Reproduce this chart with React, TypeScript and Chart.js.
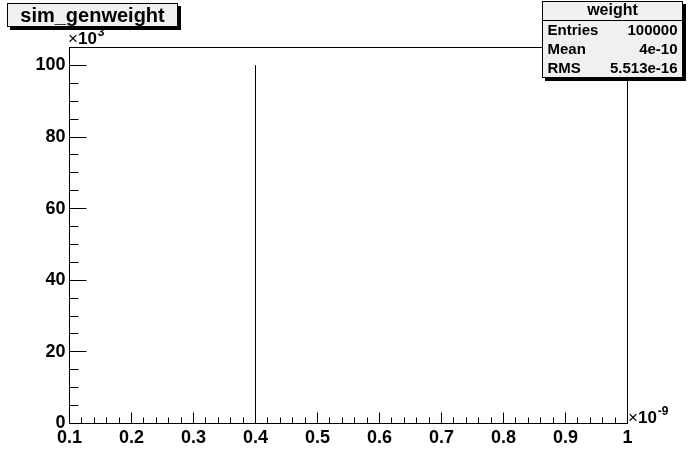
import React, { useEffect, useRef } from 'react';
import { Chart, registerables } from 'chart.js';

Chart.register(...registerables);

// ---- data ----
const histTitle = 'sim_genweight';
const statsTitle = 'weight';
const entryValues = [0.4]; // in units of 1e-9
const entryCounts = [100000];
const xRange = [0.1, 1.0];
const yRange = [0, 105000];
const xTickValues = [0.1, 0.2, 0.3, 0.4, 0.5, 0.6, 0.7, 0.8, 0.9, 1.0];
const xTickLabels = ['0.1', '0.2', '0.3', '0.4', '0.5', '0.6', '0.7', '0.8', '0.9', '1'];
const yTickValues = [0, 20000, 40000, 60000, 80000, 100000];
const yTickLabels = ['0', '20', '40', '60', '80', '100'];
const statsLabels = ['Entries', 'Mean', 'RMS'];
const statsValues = ['100000', '4e-10', '5.513e-16'];
const xExponent = '-9';
const yExponent = '3';

const FONT = '"Liberation Sans", Arial, Helvetica, sans-serif';

function buildStepPoints() {
  const pts: { x: number; y: number }[] = [{ x: xRange[0], y: 0 }];
  entryValues.forEach((v, i) => {
    pts.push({ x: v, y: 0 }, { x: v, y: entryCounts[i] }, { x: v, y: 0 });
  });
  pts.push({ x: xRange[1], y: 0 });
  return pts;
}

const rootPlugin = {
  id: 'rootDecor',
  afterDraw(chart: any) {
    const ctx = chart.ctx as CanvasRenderingContext2D;
    const { left, right, top, bottom } = chart.chartArea;
    const xs = chart.scales.x;
    const ys = chart.scales.y;
    ctx.save();
    ctx.strokeStyle = '#000';
    ctx.fillStyle = '#000';
    ctx.lineWidth = 1;
    // frame
    ctx.strokeRect(left, top, right - left, bottom - top);
    // x ticks (major + 4 minor between)
    const xMajor = xTickValues[1] - xTickValues[0];
    const xMinor = xMajor / 5;
    const nx = Math.round((xRange[1] - xRange[0]) / xMinor);
    ctx.beginPath();
    for (let i = 0; i <= nx; i++) {
      const v = xRange[0] + i * xMinor;
      const px = Math.floor(xs.getPixelForValue(v)) + 0.5;
      const len = i % 5 === 0 ? 11 : 6;
      ctx.moveTo(px, bottom);
      ctx.lineTo(px, bottom - len);
    }
    // y ticks
    const yMajor = yTickValues[1] - yTickValues[0];
    const yMinor = yMajor / 4;
    for (let i = 0; i * yMinor < yRange[1]; i++) {
      const v = i * yMinor;
      const py = Math.floor(ys.getPixelForValue(v)) + 0.5;
      const len = i % 4 === 0 ? 17 : 9;
      ctx.moveTo(left, py);
      ctx.lineTo(left + len, py);
    }
    ctx.stroke();

    // exponent labels
    const drawExp = (x: number, y: number, exp: string) => {
      ctx.textAlign = 'left';
      ctx.textBaseline = 'alphabetic';
      ctx.font = `17px ${FONT}`;
      ctx.fillText('\u00d7', x, y);
      const w1 = ctx.measureText('\u00d7').width;
      ctx.font = `bold 17px ${FONT}`;
      ctx.fillText('10', x + w1, y);
      const w2 = ctx.measureText('10').width;
      ctx.font = `bold 12px ${FONT}`;
      ctx.fillText(exp, x + w1 + w2 + 1, y - 8);
    };
    drawExp(68, 44, yExponent);
    drawExp(628, 423, xExponent);

    // title box
    const tb = { x: 7.5, y: 3.5, w: 170, h: 23 };
    ctx.fillStyle = '#000';
    ctx.fillRect(tb.x + 2.5, tb.y + 2.5, tb.w + 1, tb.h + 1);
    ctx.fillStyle = '#f0f0f0';
    ctx.fillRect(tb.x, tb.y, tb.w, tb.h);
    ctx.strokeRect(tb.x, tb.y, tb.w, tb.h);
    ctx.fillStyle = '#000';
    ctx.font = `bold 20px ${FONT}`;
    ctx.textAlign = 'center';
    ctx.textBaseline = 'middle';
    ctx.fillText(histTitle, tb.x + tb.w / 2, tb.y + tb.h / 2 + 1);

    // stats box
    const sb = { x: 542.5, y: 1.5, w: 140, h: 76 };
    ctx.fillStyle = '#000';
    ctx.fillRect(sb.x + 2.5, sb.y + 2.5, sb.w + 1, sb.h + 1);
    ctx.fillStyle = '#f0f0f0';
    ctx.fillRect(sb.x, sb.y, sb.w, sb.h);
    ctx.strokeRect(sb.x, sb.y, sb.w, sb.h);
    ctx.beginPath();
    ctx.moveTo(sb.x, 20.5);
    ctx.lineTo(sb.x + sb.w, 20.5);
    ctx.stroke();
    ctx.fillStyle = '#000';
    ctx.font = `bold 16px ${FONT}`;
    ctx.textAlign = 'center';
    ctx.textBaseline = 'middle';
    ctx.fillText(statsTitle, sb.x + sb.w / 2, 11);
    ctx.font = `bold 15px ${FONT}`;
    const rowY = [31, 50, 69];
    statsLabels.forEach((lab, i) => {
      ctx.textAlign = 'left';
      ctx.fillText(lab, sb.x + 5, rowY[i]);
      ctx.textAlign = 'right';
      ctx.fillText(statsValues[i], sb.x + sb.w - 5, rowY[i]);
    });
    ctx.restore();
  },
};

export default function App() {
  const ref = useRef<HTMLCanvasElement>(null);
  useEffect(() => {
    if (!ref.current) return;
    const chart = new Chart(ref.current, {
      type: 'line',
      data: {
        datasets: [
          {
            data: buildStepPoints(),
            borderColor: '#000',
            borderWidth: 1,
            pointRadius: 0,
            fill: false,
            tension: 0,
          },
        ],
      },
      options: {
        animation: false,
        responsive: false,
        devicePixelRatio: 1,
        layout: { padding: { top: 47.5, right: 68.5, left: 0, bottom: 0 } },
        plugins: { legend: { display: false }, tooltip: { enabled: false } },
        scales: {
          x: {
            type: 'linear',
            min: xRange[0],
            max: xRange[1],
            grid: { display: false, drawTicks: false, tickLength: 0 },
            border: { display: false },
            ticks: {
              color: '#000',
              font: { family: FONT, size: 18, weight: 'bold' },
              padding: 4,
              maxRotation: 0,
              autoSkip: false,
              callback: (_v: any, i: number) => xTickLabels[i],
            },
            afterBuildTicks: (s: any) => {
              s.ticks = xTickValues.map((v) => ({ value: v }));
            },
            afterFit: (s: any) => {
              s.height = 48.5;
            },
          },
          y: {
            type: 'linear',
            min: yRange[0],
            max: yRange[1],
            grid: { display: false, drawTicks: false, tickLength: 0 },
            border: { display: false },
            ticks: {
              color: '#000',
              font: { family: FONT, size: 18, weight: 'bold' },
              padding: 4,
              autoSkip: false,
              callback: (_v: any, i: number) => yTickLabels[i],
            },
            afterBuildTicks: (s: any) => {
              s.ticks = yTickValues.map((v) => ({ value: v }));
            },
            afterFit: (s: any) => {
              s.width = 69.5;
            },
          },
        },
      } as any,
      plugins: [rootPlugin],
    });
    return () => chart.destroy();
  }, []);
  return (
    <div style={{ position: 'fixed', left: 0, top: 0, width: 696, height: 472, background: '#fff' }}>
      <canvas ref={ref} width={696} height={472} style={{ display: 'block' }} />
    </div>
  );
}
